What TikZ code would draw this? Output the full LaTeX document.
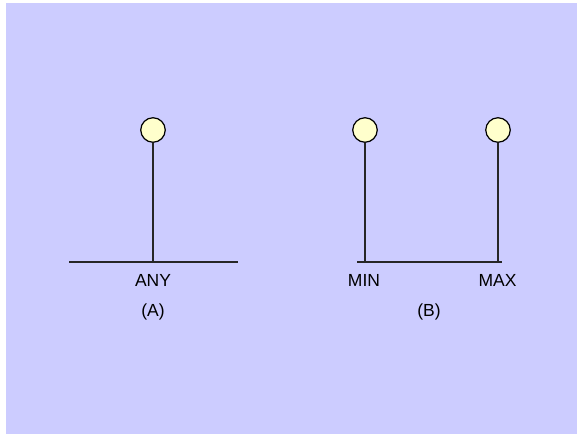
\documentclass[tikz,border=0pt]{standalone}
\usepackage{fontspec}
\setmainfont{Liberation Sans}
\begin{document}
\begin{tikzpicture}[x=1pt,y=-1pt,
  knob/.style={circle,draw=black,fill=knobfill,line width=1.2pt,minimum size=24.5pt,inner sep=0pt},
  wire/.style={line width=1.2pt,draw=black!85},
  lbl/.style={font=\fontsize{17.5}{20}\selectfont,inner sep=0pt}]
\definecolor{panel}{HTML}{CCCCFF}
\definecolor{knobfill}{HTML}{FFFFCC}
\useasboundingbox (0,0) rectangle (577,434);
\fill[panel] (6,3) rectangle (577,434);

% (A): one knob over a free line
\node[knob] (ka) at (153,130) {};
\coordinate (fa) at (153,262);
\coordinate (la) at (69,262);
\coordinate (ra) at (238,262);
\draw[wire] (la) -- (ra);
\draw[wire] (ka.south) -- (fa);
\node[lbl] (any) at (153,280) {ANY};
\node[lbl] (capa) at (153,312) {(A)};

% (B): two knobs pinned to the ends
\node[knob] (kmin) at (365,130) {};
\node[knob] (kmax) at (498,130) {};
\coordinate (fmin) at (365,262);
\coordinate (fmax) at (498,262);
\coordinate (lb) at (357,262);
\coordinate (rb) at (502,262);
\draw[wire] (lb) -- (rb);
\draw[wire] (kmin.south) -- (fmin);
\draw[wire] (kmax.south) -- (fmax);
\node[lbl] (min) at (364,280) {MIN};
\node[lbl] (max) at (497.5,280) {MAX};
\node[lbl] (capb) at (429,312) {(B)};
\end{tikzpicture}
\end{document}
